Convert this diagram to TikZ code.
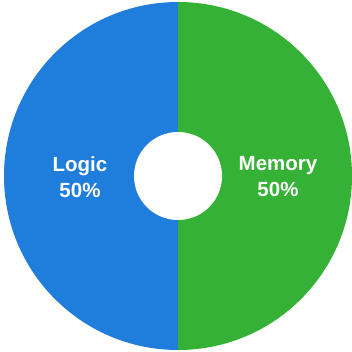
\documentclass[tikz,border=0pt]{standalone}
\usepackage{fontspec}
\setmainfont{Liberation Sans}
\definecolor{logicblue}{RGB}{31,126,220}
\definecolor{memgreen}{RGB}{53,178,53}
\begin{document}
\begin{tikzpicture}[x=1pt,y=1pt,
  slice/.style={draw=none},
  pct/.style={text=white, align=center, font=\bfseries\fontsize{20.5}{26}\selectfont}]
\useasboundingbox (0,0) rectangle (352,351);
\coordinate (c) at (178,175);
% two halves
\fill [slice, logicblue] (c) -- ++(0,174) arc [start angle=90, end angle=270, radius=174] -- cycle;
\fill [slice, memgreen] (c) -- ++(0,-174) arc [start angle=-90, end angle=90, radius=174] -- cycle;
% hole
\fill [white] (c) circle (44);
\node (logic) [pct] at (80,174) {Logic\\50\%};
\node (memory) [pct] at (278,174) {Memory\\50\%};
\end{tikzpicture}
\end{document}
